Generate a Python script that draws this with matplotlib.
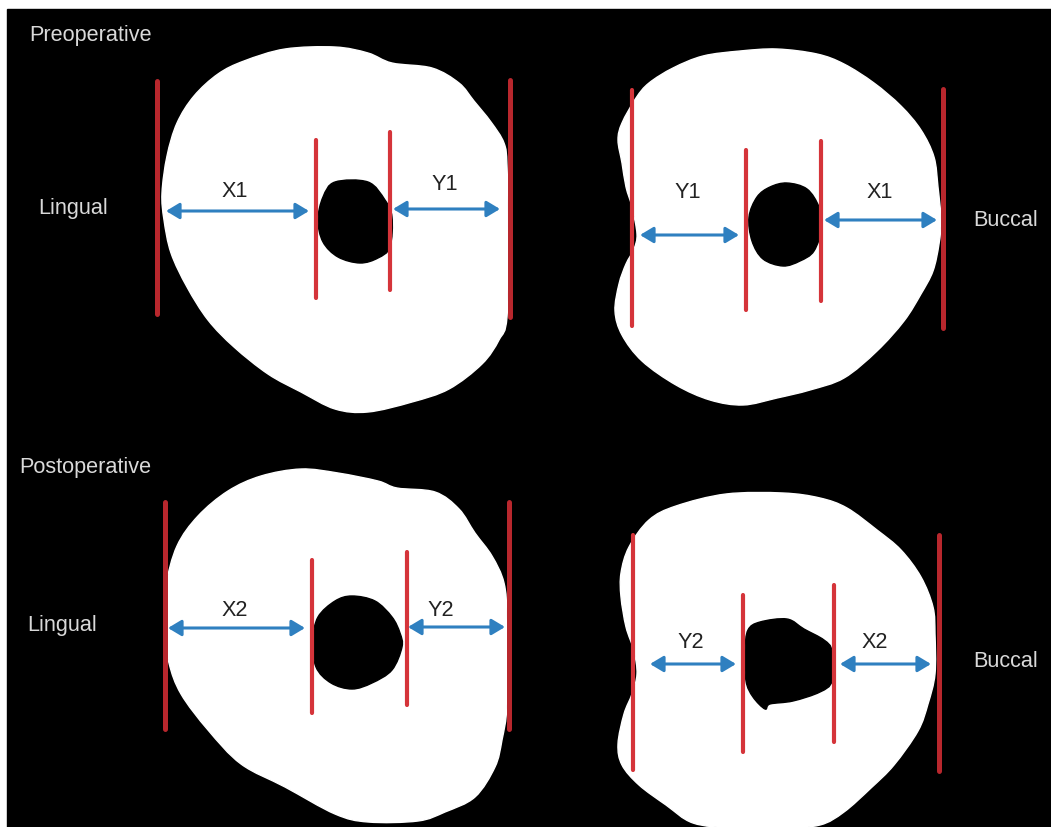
# Tooth cross sections, pre- and postoperative, pixel coordinates of the picture

import numpy as np
import matplotlib.pyplot as plt
from matplotlib.path import Path
from matplotlib.patches import PathPatch

plt.rcParams['font.family'] = ['Liberation Sans', 'DejaVu Sans']

# ---------------------- Outlines (x, y)

toothPreLingual = [(335,48),(368,54),(392,64),(432,69),(459,84),(474,102),(491,123),(504,144),(507,167),(508,234),
    (507,318),(499,341),(482,365),(449,390),(412,403),(368,413),(335,410),(301,393),(268,375),(234,348),
    (208,321),(187,288),(171,254),(164,221),(162,194),(167,157),(177,124),(194,97),(218,75),(244,62),(285,50)]
holePreLingual = [(335,183),(368,183),(385,201),(392,218),(390,248),(378,259),(360,264),(338,258),(323,243),(318,221),(323,198)]

toothPreBuccal = [(740,52),(777,50),(817,55),(844,65),(874,84),(901,107),(921,131),(934,158),(938,188),(941,221),
    (939,245),(933,272),(921,295),(904,322),(877,352),(844,379),(810,391),(777,399),(743,406),(710,401),
    (676,386),(642,362),(622,336),(615,312),(619,285),(626,265),(634,250),(637,235),(632,208),(626,188),
    (622,164),(618,141),(622,124),(636,99),(649,84),(673,69),(703,57)]
holePreBuccal = [(787,184),(807,190),(819,208),(822,228),(814,252),(800,262),(783,267),(763,260),(752,242),(749,218),(757,198),(770,188)]

toothPostLingual = [(301,470),(338,474),(378,482),(397,489),(435,493),(459,510),(475,534),(492,557),(504,584),(507,621),
    (507,705),(502,741),(495,768),(475,798),(445,813),(418,822),(368,823),(335,815),(285,788),(241,765),
    (208,731),(181,695),(169,664),(164,628),(166,587),(177,547),(198,517),(228,492),(261,477)]
holePostLingual = [(352,597),(375,602),(392,618),(400,634),(402,648),(392,671),(372,684),(352,690),(331,684),(316,668),(313,641),(318,618),(335,602)]

toothPostBuccal = [(726,495),(783,494),(820,499),(847,509),(877,531),(901,551),(921,578),(933,608),(935,635),(935,675),
    (928,705),(918,732),(894,766),(871,789),(844,813),(820,826),(783,829),(733,829),(693,824),(666,806),
    (639,786),(622,766),(618,745),(624,715),(632,695),(637,675),(634,652),(626,628),(621,598),(621,574),
    (629,548),(649,521),(676,507)]
holePostBuccal = [(760,623),(787,620),(804,630),(824,641),(832,652),(832,682),(820,693),(793,702),(770,705),(765,710),(753,698),(746,682),(745,652),(748,631)]

teeth = [toothPreLingual, toothPreBuccal, toothPostLingual, toothPostBuccal]
holes = [holePreLingual, holePreBuccal, holePostLingual, holePostBuccal]

# ---------------------- Red lines: x, top, bottom

outerLines = [(157,82,315), (510,81,318), (943,90,329), (165,503,730), (509,503,730), (939,536,772)]
innerLines = [(316,141,299), (390,133,291), (632,91,327), (746,151,311), (821,142,302),
              (312,561,714), (407,553,706), (633,536,771), (743,596,753), (834,586,743)]

# ---------------------- Arrows: start, end, y

arrows = [(166,309,212), (393,500,210), (640,739,236), (824,937,221),
          (168,305,629), (408,505,628), (650,736,665), (840,931,665)]

# ---------------------- Text

darkLabels = [('X1',235,192), ('Y1',445,184), ('Y1',688,193), ('X1',880,193),
              ('X2',235,611), ('Y2',441,611), ('Y2',691,643), ('X2',875,643)]
lightLabels = [('Preoperative',91,35), ('Lingual',73,209), ('Buccal',1006,221),
               ('Postoperative',85,468), ('Lingual',62,626), ('Buccal',1006,662)]

# ---------------------- Define functions

def outlinePath(points):
    # closed curve through the read points
    p = np.array(points, dtype = float)
    N = len(p)
    verts = [p[0]]
    codes = [Path.MOVETO]
    for i in range(N):
        before, a, b, after = p[i-1], p[i], p[(i+1) % N], p[(i+2) % N]
        verts += [a + (b - before)/6, b - (after - a)/6, b]
        codes += [Path.CURVE4]*3
    return Path(verts, codes)

# ---------------------- Plot

fig = plt.figure(figsize = (10.51, 8.28), dpi = 100, facecolor = 'white')
ax = fig.add_axes([0, 0, 1, 1])
ax.set_xlim(0, 1051)
ax.set_ylim(828, 0)
ax.axis('off')

ax.fill([7, 1051, 1051, 7], [10, 10, 828, 828], color = 'black', zorder = 0)

for tooth, hole in zip(teeth, holes):
    ax.add_patch(PathPatch(outlinePath(tooth), facecolor = 'white', edgecolor = 'white',
                           linewidth = 1, zorder = 1))
    ax.add_patch(PathPatch(outlinePath(hole), facecolor = 'black', edgecolor = 'black',
                           linewidth = 1, zorder = 2))

for x, top, bottom in outerLines:
    ax.plot([x, x], [top, bottom], color = '#b8272d', linewidth = 3.6,
            solid_capstyle = 'round', zorder = 3)
for x, top, bottom in innerLines:
    ax.plot([x, x], [top, bottom], color = '#d5343a', linewidth = 3.0,
            solid_capstyle = 'round', zorder = 3)

for x0, x1, y in arrows:
    ax.annotate('', xy = (x1, y), xytext = (x0, y),
                arrowprops = dict(arrowstyle = '<|-|>,head_length=0.5,head_width=0.3',
                                  facecolor = '#2f80c0', edgecolor = '#2f80c0', linewidth = 2.2,
                                  mutation_scale = 16, shrinkA = 0, shrinkB = 0), zorder = 4)

for s, x, y in darkLabels:
    ax.text(x, y, s, color = '#222222', fontsize = 15.6, ha = 'center', va = 'center', zorder = 5)
for s, x, y in lightLabels:
    ax.text(x, y, s, color = '#d9d9d9', fontsize = 15.6, ha = 'center', va = 'center', zorder = 5)

plt.savefig('out.png', dpi = 100)
